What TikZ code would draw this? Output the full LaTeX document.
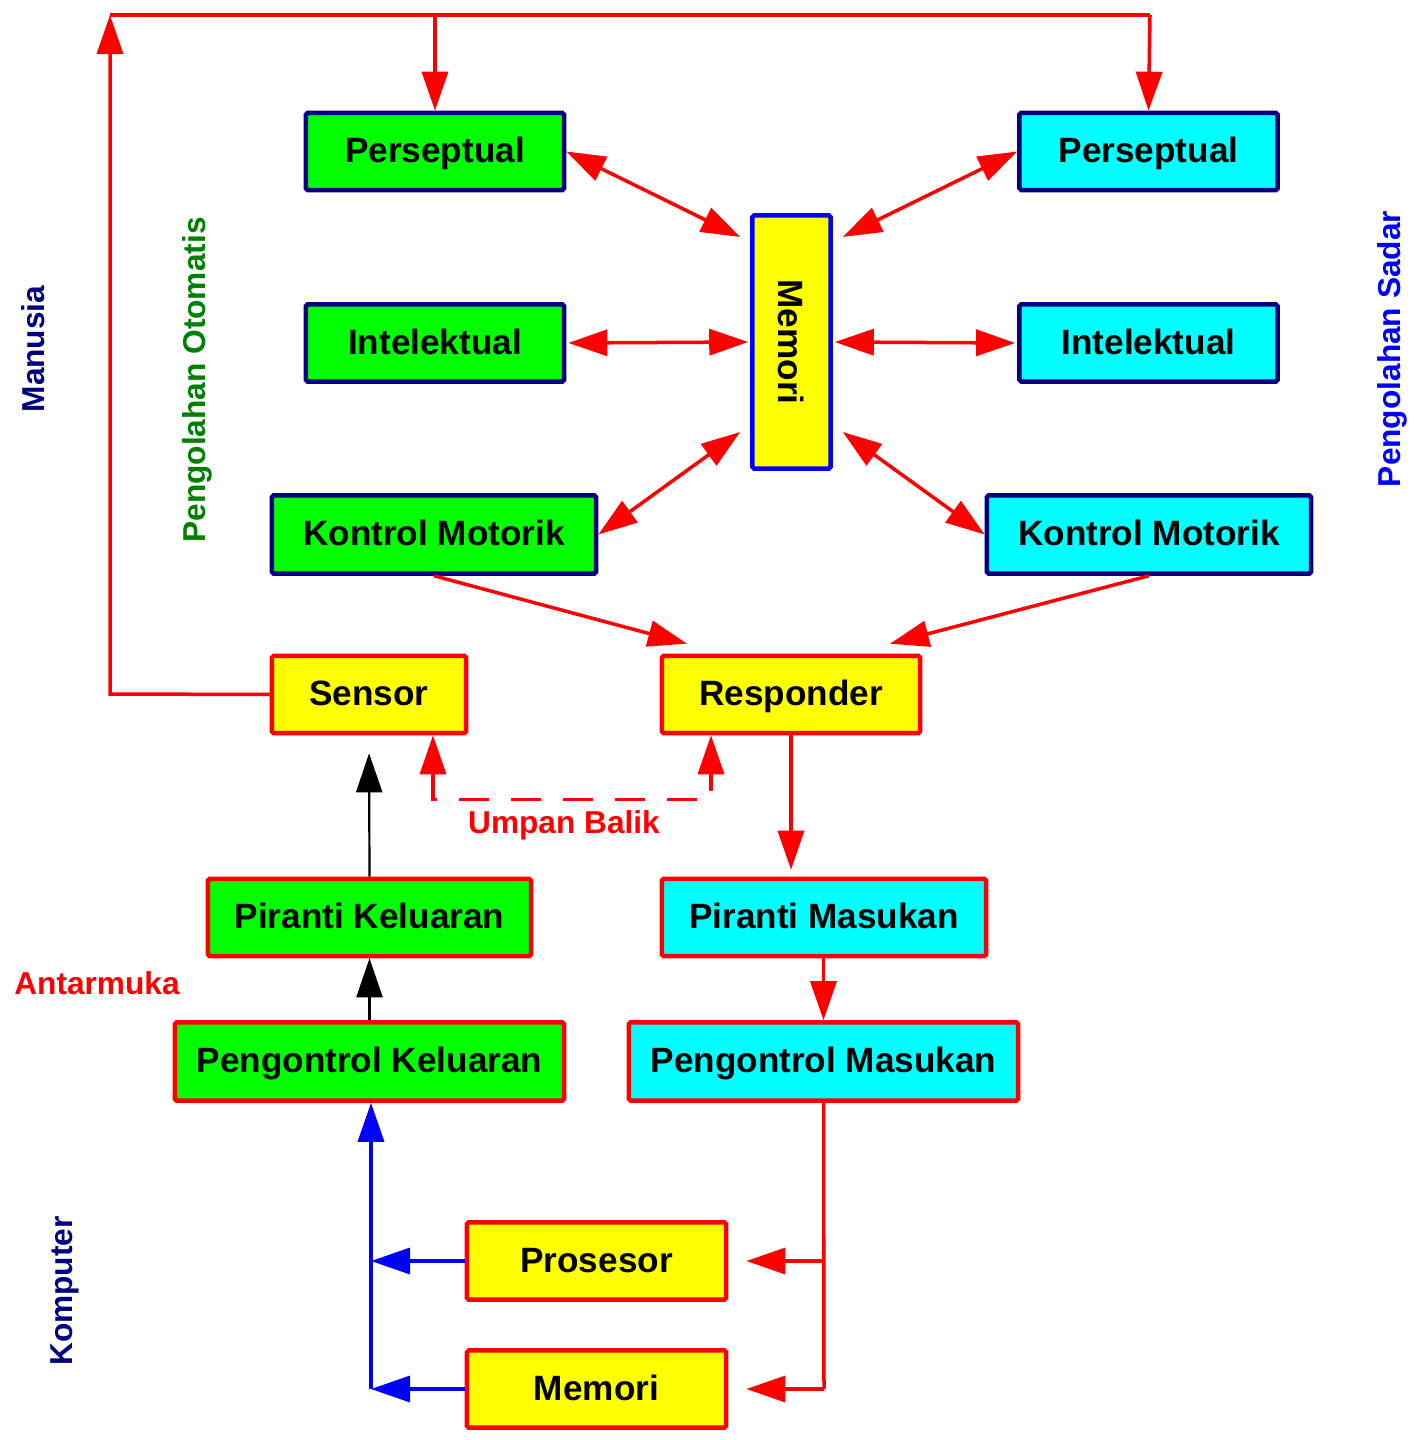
\documentclass[tikz,border=0pt]{standalone}
\usepackage{fontspec}
\setmainfont{Liberation Sans}
\usepackage{graphicx}
\usetikzlibrary{arrows.meta,calc}
\definecolor{cgreen}{RGB}{0,255,0}
\definecolor{ccyan}{RGB}{0,255,255}
\definecolor{cyellow}{RGB}{255,255,0}
\definecolor{cnavy}{RGB}{0,0,128}
\definecolor{cdkgreen}{RGB}{0,128,0}
\definecolor{cred}{RGB}{255,0,0}
\definecolor{cblue}{RGB}{0,0,255}
\tikzset{
  box/.style={draw, line width=0.045cm, rounded corners=0.5pt, inner sep=0pt,
    minimum height=0.77cm, font=\fontsize{10}{12}\selectfont\bfseries, text=black},
  hbox/.style={text height=0.27cm, text depth=0.05cm},
  gbox/.style={box, hbox, fill=cgreen, draw=cnavy},
  cbox/.style={box, hbox, fill=ccyan, draw=cnavy},
  ybox/.style={box, hbox, fill=cyellow, draw=cred},
  grbox/.style={box, hbox, fill=cgreen, draw=cred},
  crbox/.style={box, hbox, fill=ccyan, draw=cred},
  tip/.style={-{Triangle[length=0.39cm,width=0.26cm]}},
  dtip/.style={{Triangle[length=0.39cm,width=0.26cm]}-{Triangle[length=0.39cm,width=0.26cm]}},
  rline/.style={draw=cred, line width=0.035cm},
  bline/.style={draw=cblue, line width=0.035cm},
  kline/.style={draw=black, line width=0.022cm},
  lbl/.style={font=\fontsize{9}{11}\selectfont\bfseries, inner sep=0pt},
}
\begin{document}
\begin{tikzpicture}[x=0.01cm, y=-0.01cm]
\path[use as bounding box] (0,0) rectangle (1421,1440);
% human side boxes
\node[gbox, minimum width=2.58cm] (p1) at (435,151.5) {Perseptual};
\node[cbox, minimum width=2.58cm] (p2) at (1148.5,151.5) {Perseptual};
\node[gbox, minimum width=2.58cm] (i1) at (435,343) {Intelektual};
\node[cbox, minimum width=2.58cm] (i2) at (1148.5,343) {Intelektual};
\node[gbox, minimum width=3.24cm, minimum height=0.78cm] (k1) at (434,534.5) {Kontrol Motorik};
\node[cbox, minimum width=3.24cm, minimum height=0.78cm] (k2) at (1149,534.5) {Kontrol Motorik};
\node[box, fill=cyellow, draw=cblue, minimum width=0.78cm, minimum height=2.53cm] (mem) at (791.5,342) {\rotatebox{-90}{Memori}};
\node[ybox, minimum width=1.94cm] (sen) at (369,694.5) {Sensor};
\node[ybox, minimum width=2.58cm] (resp) at (791,694.5) {Responder};
% interface
\node[grbox, minimum width=3.23cm] (pk) at (369.5,917.5) {Piranti Keluaran};
\node[crbox, minimum width=3.24cm] (pm) at (824,917.5) {Piranti Masukan};
\node[grbox, minimum width=3.89cm, minimum height=0.78cm] (pck) at (369.5,1061.5) {Pengontrol Keluaran};
\node[crbox, minimum width=3.89cm, minimum height=0.78cm] (pcm) at (823.5,1061.5) {Pengontrol Masukan};
% computer
\node[ybox, minimum width=2.59cm] (pros) at (596.5,1261) {Prosesor};
\node[ybox, minimum width=2.59cm] (mem2) at (596.5,1389) {Memori};
% labels
\node[lbl, text=cnavy, rotate=90] (lman) at (33,349) {Manusia};
\node[lbl, text=cdkgreen, rotate=90] (loto) at (197,380) {Pengolahan Otomatis};
\node[lbl, text=cblue, rotate=90] (lsad) at (1392,349) {Pengolahan Sadar};
\node[lbl, text=cnavy, rotate=90] (lkom) at (65,1291) {Komputer};
\node[lbl, text=cred] (lant) at (97,983) {Antarmuka};
\node[lbl, text=cred] (lump) at (564,825) {Umpan Balik};
% top loop
\coordinate (c1) at (110,694);
\coordinate (c2) at (110,15);
\coordinate (c3) at (1150,15);
\coordinate (c4) at (435,15);
\draw[rline, tip] (sen.west) -- (c1) -- (c2);
\draw[rline] (c2) -- (c3);
\draw[rline, tip] (c4) -- (p1.north);
\draw[rline, tip] (c3) -- (p2.north);
% memory links
\draw[rline, dtip] (p1.east) -- ($(mem.west)+(-10,-105)$);
\draw[rline, dtip] (p2.west) -- ($(mem.east)+(10,-105)$);
\draw[rline, dtip, shorten >=0.02cm, shorten <=0.02cm] (i1.east) -- (mem.west);
\draw[rline, dtip, shorten >=0.02cm, shorten <=0.02cm] (mem.east) -- (i2.west);
\draw[rline, dtip] (k1.east) -- ($(mem.west)+(-10,90)$);
\draw[rline, dtip] ($(mem.east)+(10,90)$) -- (k2.west);
% to responder
\draw[rline, tip] (k1.south) -- ($(resp.north)+(-104,-10)$);
\draw[rline, tip] (k2.south) -- ($(resp.north)+(99,-10)$);
% responder to input devices
\draw[rline, tip, shorten >=0.07cm] (resp.south) -- (resp.south |- pm.north);
\draw[rline, tip] (pm.south -| pcm.south) -- (pcm.north);
% input controller to computer
\coordinate (d1) at (824,1261);
\coordinate (d2) at (824,1389);
\draw[rline] (pcm.south) -- (d2);
\draw[rline, tip, shorten >=0.18cm] (d1) -- (pros.east);
\draw[rline, tip, shorten >=0.18cm] (d2) -- (mem2.east);
% computer to output controller
\coordinate (e1) at (371,1261);
\coordinate (e2) at (371,1389);
\draw[bline, tip] (pros.west) -- (e1);
\draw[bline, tip] (mem2.west) -- (e2);
\draw[bline, tip] (e2) -- (e2 |- pck.south);
% output path
\draw[kline, tip] (pck.north) -- (pk.south);
\draw[kline, tip, shorten >=0.18cm] (pk.north) -- (sen.south);
% feedback
\coordinate (f1) at ($(sen.south)+(64,0)$);
\coordinate (f2) at ($(resp.south)+(-80,0)$);
\draw[rline, dtip, dash pattern=on 0.3cm off 0.22cm] (f1) -- ++(0,64) -| (f2);
\end{tikzpicture}
\end{document}
